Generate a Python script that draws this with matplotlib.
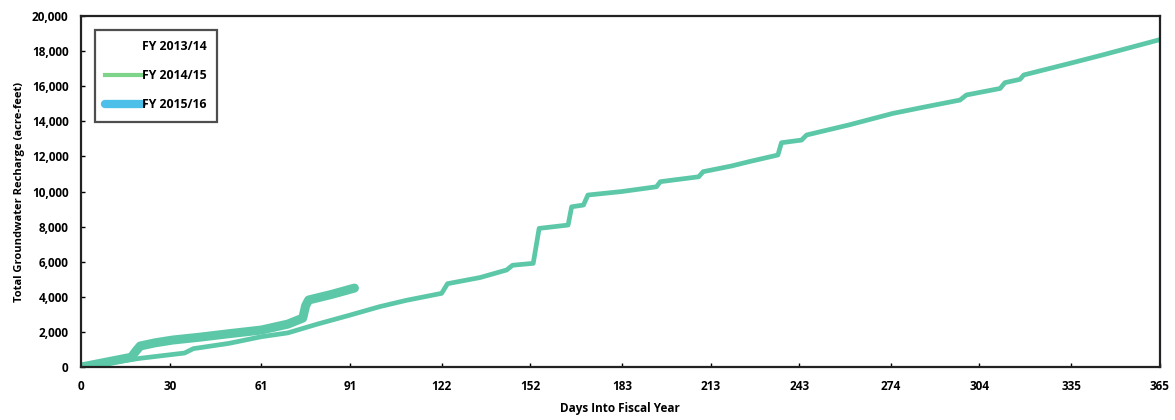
import matplotlib.pyplot as plt
from matplotlib.lines import Line2D

# cumulative recharge (acre-feet) by day into fiscal year
days_1415 = [0, 10, 20, 30, 35, 38, 50, 61, 70, 80, 91, 101, 110, 122, 124, 135, 144, 146,
             153, 155, 164.8, 166, 170, 171.5, 183, 194.7, 196, 209, 210.5, 220, 226, 235.8,
             237, 243.8, 245.5, 260, 274.7, 285, 297.4, 299.6, 311, 312.6, 317.7, 319, 334.6,
             345, 365]
vals_1415 = [0, 250, 500, 700, 800, 1050, 1350, 1730, 1950, 2450, 2960, 3440, 3800, 4200, 4750,
             5100, 5530, 5800, 5910, 7900, 8090, 9130, 9230, 9800, 10000, 10270, 10560, 10840,
             11130, 11450, 11700, 12080, 12780, 12930, 13220, 13800, 14450, 14800, 15210, 15500,
             15870, 16200, 16390, 16640, 17300, 17750, 18650]

days_1516 = [0, 10, 17, 18.5, 20, 25, 31, 40, 50, 61, 70, 75, 76, 77, 85, 92.5]
vals_1516 = [0, 330, 560, 900, 1200, 1380, 1540, 1700, 1900, 2110, 2450, 2790, 3500, 3820,
             4150, 4500]

xticks = [0, 30, 61, 91, 122, 152, 183, 213, 243, 274, 304, 335, 365]
yticks = list(range(0, 20001, 2000))

plt.rcParams['font.family'] = ['Open Sans', 'DejaVu Sans']

fig = plt.figure(figsize=(11.75, 4.2), dpi=100)
ax = fig.add_axes([0.069, 0.126, 0.918, 0.836])

line_col = '#5cc8a8'
ax.plot(days_1415, vals_1415, color=line_col, lw=3.4, solid_capstyle='round')
ax.plot(days_1516, vals_1516, color=line_col, lw=6.5, solid_capstyle='round')

ax.set_xlim(0, 365)
ax.set_ylim(0, 20000)
ax.set_xticks(xticks)
ax.set_yticks(yticks)
ax.set_yticklabels([f'{v:,}' for v in yticks])
ax.tick_params(axis='both', labelsize=8.5, length=3, width=1, direction='in')
ax.tick_params(axis='x', pad=9)
ax.tick_params(axis='y', pad=9)
for lbl in ax.get_xticklabels() + ax.get_yticklabels():
    lbl.set_fontweight('bold')

for sp in ax.spines.values():
    sp.set_linewidth(1.6)
    sp.set_color('#222222')

ax.set_xlabel('Days Into Fiscal Year', fontsize=8.5, fontweight='bold', labelpad=7)
ax.set_ylabel('Total Groundwater Recharge (acre-feet)', fontsize=8, fontweight='bold',
              labelpad=5)

handles = [Line2D([], [], color='white', lw=3),
           Line2D([], [], color='#7fd48c', lw=3),
           Line2D([], [], color='#4cc0e8', lw=6, solid_capstyle='round')]
labels = ['FY 2013/14', 'FY 2014/15', 'FY 2015/16']
leg = ax.legend(handles, labels, loc='upper left', bbox_to_anchor=(0.013, 0.96),
                frameon=True, fancybox=False, edgecolor='#222222', handlelength=3.0,
                handletextpad=0.0, labelspacing=1.3, borderpad=0.85, borderaxespad=0,
                prop={'weight': 'bold', 'size': 8.8})
leg.get_frame().set_linewidth(1.6)

fig.savefig('out.png', dpi=100)
